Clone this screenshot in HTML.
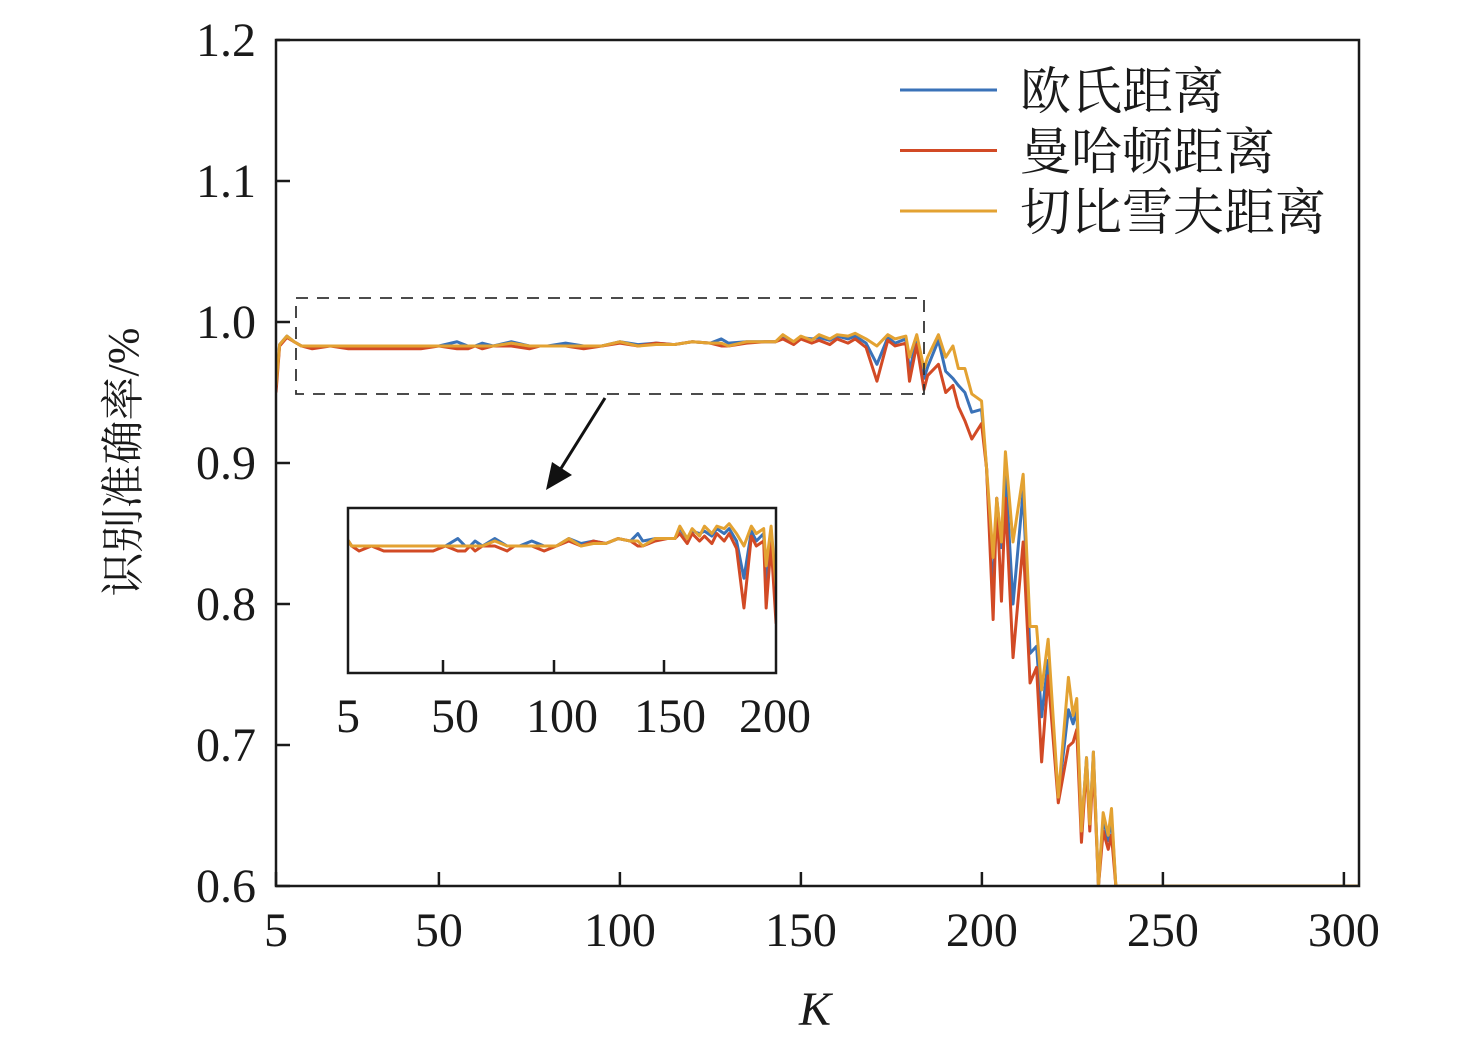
<!DOCTYPE html>
<html><head><meta charset="utf-8"><style>
html,body{margin:0;padding:0;background:#fff;overflow:hidden;width:1476px;height:1053px;}
svg{display:block;}
svg text{font-family:"Liberation Serif","Times New Roman",serif;fill:#1a1a1a;}
svg text.cjk{font-family:"Liberation Serif","Noto Serif CJK SC",serif;}
</style></head><body>
<svg id="chart" width="1476" height="1053" viewBox="0 0 1476 1053" xmlns="http://www.w3.org/2000/svg">
<defs>
<clipPath id="mainClip"><rect x="276" y="40" width="1083" height="847"/></clipPath>
<clipPath id="insetClip"><rect x="348" y="508" width="428" height="165"/></clipPath>
</defs>
<g id="main"></g>
<g id="inset"></g>
</svg>
<script>
const kValues=[5,6,8,10,12,15,20,25,30,35,40,45,50,55,58,60,62,65,70,75,78,80,85,90,95,100,105,110,115,120,125,128,130,135,140,143,145,148,150,153,155,158,160,163,165,168,171,174,176,179,180,182,184,185,188,190,192,193.5,195.3,197.2,199.9,201.3,203.1,204.1,205.4,206.5,208.6,211.4,213.3,215.1,216.5,218.3,221.1,223.9,225.2,226.2,227.5,228.9,229.8,230.8,232.2,233.5,234.9,235.8,237,305];
const euclidean=[.955,.984,.990,.986,.983,.983,.983,.983,.983,.983,.983,.983,.983,.986,.983,.983,.985,.983,.986,.983,.983,.983,.985,.983,.983,.986,.984,.985,.984,.986,.985,.988,.985,.986,.986,.986,.990,.986,.989,.988,.989,.987,.990,.988,.990,.985,.970,.989,.985,.988,.965,.988,.960,.968,.987,.965,.960,.955,.950,.936,.938,.896,.805,.875,.840,.895,.800,.880,.765,.770,.720,.760,.663,.725,.715,.725,.639,.691,.644,.695,.600,.648,.632,.650,.600,.600];
const manhattan=[.950,.983,.989,.986,.983,.981,.983,.981,.981,.981,.981,.981,.983,.981,.981,.983,.981,.983,.983,.981,.983,.983,.983,.981,.983,.985,.983,.985,.984,.986,.985,.983,.983,.985,.986,.986,.988,.984,.988,.985,.987,.984,.988,.985,.988,.982,.958,.987,.983,.985,.958,.984,.952,.962,.970,.950,.955,.940,.930,.917,.928,.896,.789,.875,.802,.875,.762,.844,.744,.755,.688,.749,.659,.699,.702,.711,.631,.686,.639,.686,.600,.639,.626,.636,.600,.600];
const chebyshev=[.955,.984,.990,.986,.983,.983,.983,.983,.983,.983,.983,.983,.983,.983,.983,.983,.983,.983,.985,.983,.983,.983,.983,.983,.983,.986,.983,.984,.984,.986,.985,.985,.983,.986,.986,.986,.991,.986,.990,.987,.991,.988,.991,.990,.992,.988,.983,.991,.988,.990,.975,.991,.967,.975,.991,.975,.983,.967,.967,.949,.944,.896,.833,.875,.844,.908,.844,.892,.784,.784,.739,.775,.663,.748,.721,.733,.639,.691,.644,.695,.600,.652,.636,.655,.600,.600];
const xTicks=[5,50,100,150,200,250,300];
const yTicks=[0.6,0.7,0.8,0.9,1.0,1.1,1.2];
const insetTickLabels=['5','50','100','150','200'];
const seriesNames=['欧氏距离','曼哈顿距离','切比雪夫距离'];
const colors=['#3a72b8','#d24a25','#e3a232'];
const NS='http://www.w3.org/2000/svg';
function mk(tag,attrs,parent){const e=document.createElementNS(NS,tag);for(const k in attrs)e.setAttribute(k,attrs[k]);parent.appendChild(e);return e;}
const X=k=>276+(k-5)*3.62;
const Y=v=>886-(v-0.6)*1410;
const IX=k=>Math.min(348+(k-10.5)*2.467,790);
const IY=v=>Math.min(546+(0.983-v)*2480,680);
const main=document.getElementById('main');
const inset=document.getElementById('inset');
const allSeries=[euclidean,manhattan,chebyshev];
const lineNames=['euclidean-line','manhattan-line','chebyshev-line'];
const mg=mk('g',{'clip-path':'url(#mainClip)'},main);
allSeries.forEach((s,i)=>{
 const p=mk('polyline',{points:kValues.map((k,j)=>X(k)+','+Y(s[j])).join(' '),fill:'none',stroke:colors[i],'stroke-width':3,'stroke-linejoin':'round'},mg);
 
 
});
const fr=mk('rect',{x:276,y:40,width:1083,height:846,fill:'none',stroke:'#1a1a1a','stroke-width':2.5},main);


xTicks.forEach(t=>{
 const l=mk('line',{x1:X(t),x2:X(t),y1:886,y2:872,stroke:'#1a1a1a','stroke-width':2.5},main);
 
 
 const tx=mk('text',{x:X(t),y:946,'font-size':48,'text-anchor':'middle'},main);
 tx.textContent=t;
 
 
});
yTicks.forEach(t=>{
 const l=mk('line',{x1:276,x2:290,y1:Y(t),y2:Y(t),stroke:'#1a1a1a','stroke-width':2.5},main);
 
 
 const tx=mk('text',{x:256,y:Y(t)+16,'font-size':48,'text-anchor':'end'},main);
 tx.textContent=t.toFixed(1);
 
 
});
const xt=mk('text',{x:815,y:1025,'font-size':48,'font-style':'italic','text-anchor':'middle'},main);
xt.textContent='K';


const yt=mk('text',{x:0,y:0,'font-size':44,'text-anchor':'middle',transform:'translate(138,462) rotate(-90)','class':'cjk'},main);
yt.textContent='识别准确率/%';


const zb=mk('rect',{x:296,y:298,width:628,height:96,fill:'none',stroke:'#333','stroke-width':1.8,'stroke-dasharray':'12 9'},main);


const ar=mk('line',{x1:605,y1:398,x2:560,y2:470,stroke:'#111','stroke-width':3},main);


const ah=mk('polygon',{points:'546,490 552,462 572,475',fill:'#111'},main);


seriesNames.forEach((n,i)=>{
 const y=90+i*60.5;
 const l=mk('line',{x1:900,x2:997,y1:y,y2:y,stroke:colors[i],'stroke-width':3},main);
 
 
 const tx=mk('text',{x:1020,y:y+19,'font-size':51,'class':'cjk'},main);
 tx.textContent=n;
 
 
});
const ig=mk('g',{'clip-path':'url(#insetClip)'},inset);
allSeries.forEach((s,i)=>{
 const p=mk('polyline',{points:kValues.map((k,j)=>IX(k)+','+IY(s[j])).join(' '),fill:'none',stroke:colors[i],'stroke-width':3,'stroke-linejoin':'round'},ig);
 
 
});
const ifr=mk('rect',{x:348,y:508,width:428,height:165,fill:'none',stroke:'#1a1a1a','stroke-width':2.5},inset);


const insetTickX=[348,443,554,664,776];
const insetLabelX=[348,455,562,670,775];
insetTickLabels.forEach((t,i)=>{
 if(i>0&&i<4){
  const l=mk('line',{x1:insetTickX[i],x2:insetTickX[i],y1:673,y2:660,stroke:'#1a1a1a','stroke-width':2.5},inset);
  
  
 }
 const tx=mk('text',{x:insetLabelX[i],y:732,'font-size':48,'text-anchor':'middle'},inset);
 tx.textContent=t;
 
 
});
</script>
</body></html>
